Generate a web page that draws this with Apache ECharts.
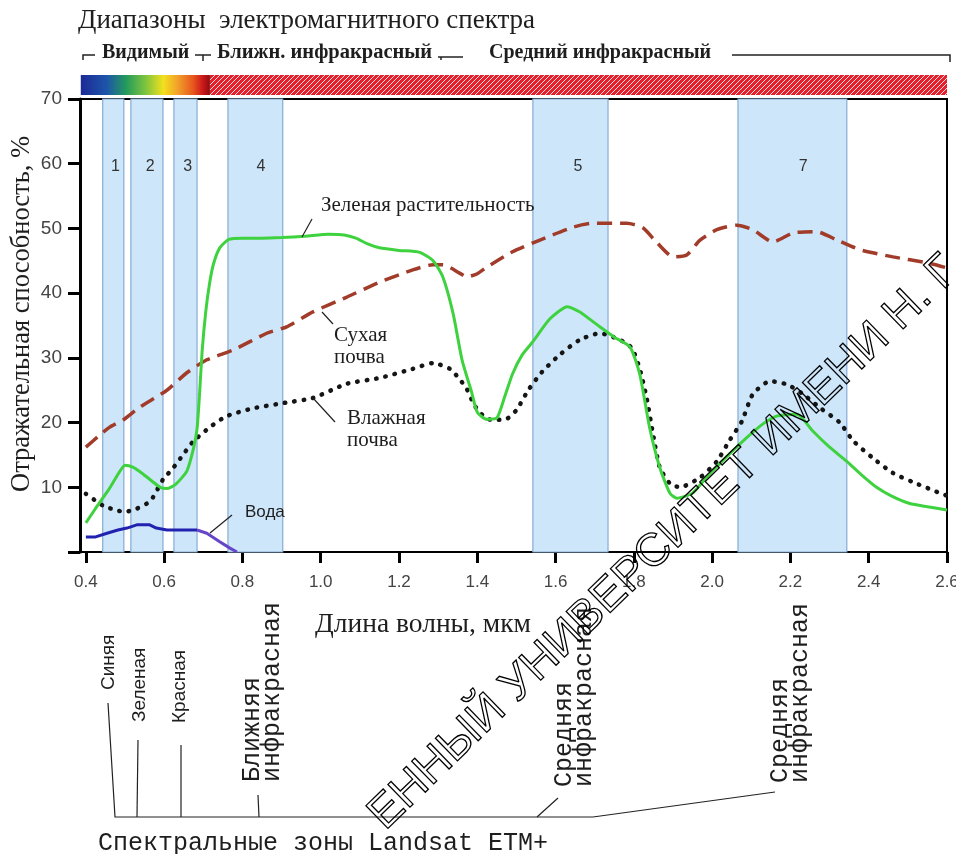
<!DOCTYPE html>
<html><head><meta charset="utf-8">
<script src="https://cdn.jsdelivr.net/npm/echarts@6/dist/echarts.min.js"></script>
<style>html,body{margin:0;padding:0;background:#fff}#c{width:956px;height:854px}</style>
</head><body><div id="c"></div><script>
// ---------- data ----------
const xTicks = [0.4,0.6,0.8,1.0,1.2,1.4,1.6,1.8,2.0,2.2,2.4,2.6];
const yTicks = [0,10,20,30,40,50,60,70];
const bandNames = ['1','2','3','4','5','7'];
const bandStart = [0.443,0.515,0.625,0.763,1.542,2.066];
const bandEnd   = [0.497,0.597,0.684,0.903,1.734,2.344];
const spectrumStart = [0.387,0.717];
const spectrumEnd   = [0.717,2.6];
const spectrumKind  = ['visible','infrared'];

const vegX = [0.40,0.43,0.46,0.48,0.50,0.52,0.545,0.57,0.59,0.607,0.63,0.658,0.675,0.684,0.69,0.697,0.706,0.716,0.726,0.742,0.765,0.80,0.85,0.90,0.96,1.02,1.06,1.09,1.12,1.15,1.20,1.253,1.287,1.312,1.338,1.361,1.386,1.40,1.424,1.45,1.47,1.49,1.515,1.542,1.585,1.63,1.662,1.713,1.75,1.79,1.815,1.84,1.866,1.892,1.91,1.95,1.985,2.02,2.089,2.13,2.165,2.217,2.257,2.30,2.344,2.38,2.42,2.46,2.505,2.55,2.60];
const vegY = [4.5,7.2,9.8,11.8,13.4,13.1,12.1,10.9,10.0,9.8,10.5,12.5,16,19,24,31,37,41.5,44.5,47,48.3,48.5,48.5,48.6,48.8,49.1,49.0,48.5,47.6,47.0,46.6,46.3,45.0,42.5,36.9,29.7,24.6,21.6,20.5,20.7,24,27.5,30.5,32.5,36,37.9,37.1,34.8,33.2,31.7,27.5,19.3,13.1,9.1,8.3,9.1,11.5,13.7,17.7,19.8,21,21.3,18.7,16.2,14,12,10,8.6,7.5,7,6.5];

const dryX = [0.40,0.436,0.461,0.495,0.538,0.607,0.658,0.709,0.776,0.862,0.913,0.98,1.067,1.151,1.235,1.287,1.312,1.355,1.373,1.40,1.424,1.49,1.56,1.645,1.695,1.782,1.823,1.859,1.90,1.935,1.969,2.012,2.063,2.104,2.155,2.207,2.267,2.319,2.378,2.462,2.549,2.60];
const dryY = [16.2,18.1,19.3,20.4,22.4,25.0,27.7,29.7,31.2,33.8,34.8,37.1,39.4,41.7,43.6,44.4,44.4,43.1,42.5,43.0,44.0,46.4,48.2,50.2,50.8,50.8,50.1,47.8,45.6,45.9,48.2,49.8,50.5,49.8,47.9,49.3,49.5,48.2,46.7,45.6,44.7,43.9];

const wetX = [0.40,0.423,0.443,0.474,0.50,0.53,0.556,0.571,0.597,0.622,0.648,0.673,0.717,0.76,0.827,0.903,0.98,1.067,1.151,1.235,1.287,1.33,1.355,1.373,1.386,1.40,1.424,1.445,1.476,1.501,1.53,1.565,1.611,1.662,1.713,1.764,1.795,1.815,1.833,1.849,1.866,1.892,1.918,1.969,2.012,2.045,2.076,2.104,2.148,2.191,2.232,2.275,2.326,2.36,2.411,2.462,2.513,2.582,2.60];
const wetY = [9.0,8.0,7.2,6.5,6.2,6.7,7.5,8.4,11.2,12.9,15.0,17.0,19.3,21.0,22.2,23.0,23.8,26.0,26.9,28.3,29.2,28.3,26.7,25.2,23.5,22.0,20.6,20.4,20.6,22.0,25.0,27.8,30.5,32.8,33.8,32.8,31.5,28.3,23.7,18.2,13.1,10.6,10.0,11.5,14.0,17.3,20.2,24.4,26.4,25.9,24.4,22.3,20.0,17.2,14.5,12.2,10.8,9.1,8.7];

const waterX = [0.40,0.423,0.454,0.482,0.505,0.53,0.563,0.58,0.607,0.684,0.709,0.742,0.768,0.786];
const waterY = [2.3,2.3,2.9,3.4,3.7,4.2,4.2,3.7,3.4,3.4,2.9,1.6,0.6,0];
const waterSplit = 9; // index where the curve leaves the visible range

// ---------- helpers ----------
const pairs = (xs, ys) => xs.map((x, i) => [x, ys[i]]);
const hatch = document.createElement('canvas');
hatch.width = 5; hatch.height = 5;
(function(){
  const c = hatch.getContext('2d');
  c.fillStyle = '#e3202b'; c.fillRect(0,0,5,5);
  c.strokeStyle = 'rgba(255,255,255,0.85)'; c.lineWidth = 1;
  c.beginPath(); c.moveTo(0,5); c.lineTo(5,0); c.moveTo(-1,1); c.lineTo(1,-1); c.moveTo(4,6); c.lineTo(6,4); c.stroke();
})();
const spectrumGradient = new echarts.graphic.LinearGradient(0,0,1,0,[
  {offset:0,color:'#1c2a96'},{offset:0.2,color:'#1d55aa'},{offset:0.35,color:'#239a5c'},
  {offset:0.5,color:'#7cc43e'},{offset:0.64,color:'#f3e01e'},{offset:0.75,color:'#f2a02a'},
  {offset:0.87,color:'#e8561e'},{offset:0.95,color:'#c8141a'},{offset:1,color:'#8a1010'}]);

const serif = '"Liberation Serif", "DejaVu Serif", serif';
const sans = '"Liberation Sans", Arial, sans-serif';
const mono = '"Liberation Mono", "DejaVu Sans Mono", monospace';

function txt(text, x, y, font, opts) {
  opts = opts || {};
  return Object.assign({type:'text', x:x, y:y, z:50, silent:true,
    style:Object.assign({text:text, font:font, fill:'#1e1e1e', textAlign:'left', textVerticalAlign:'middle', align:'left', verticalAlign:'middle'}, opts.style || {})},
    opts.el || {});
}
function vtxt(text, x, y, font, lh) {
  return {type:'text', x:x, y:y, rotation:Math.PI/2, z:50, silent:true,
    style:{text:text, font:font, fill:'#1e1e1e', textAlign:'left', align:'left', textVerticalAlign:'middle', verticalAlign:'middle', lineHeight:lh}};
}
function line(pts, w) {
  return {type:'polyline', z:50, silent:true, shape:{points:pts}, style:{stroke:'#222', lineWidth:w || 1, fill:null}};
}

const chart = echarts.init(document.getElementById('c'), null, {renderer:'canvas'});
chart.setOption({
  animation:false,
  backgroundColor:'#fff',
  grid:[
    {left:80, right:9, top:99, bottom:302, outerBoundsMode:'none', containLabel:false, show:true, borderColor:'#000', borderWidth:2, backgroundColor:'transparent'},
    {left:80, right:9, top:75, height:20, outerBoundsMode:'none', containLabel:false, show:false}
  ],
  xAxis:[
    {type:'value', gridIndex:0, min:0.385, max:2.6,
     axisLine:{show:true, lineStyle:{color:'#000', width:2}},
     axisTick:{show:true, customValues:xTicks, length:11, lineStyle:{color:'#000', width:3}},
     axisLabel:{show:true, customValues:xTicks, formatter:v=>v.toFixed(1), fontSize:17, color:'#444', margin:22, fontFamily:sans},
     splitLine:{show:false}},
    {type:'value', gridIndex:1, min:0.385, max:2.6, show:false}
  ],
  yAxis:[
    {type:'value', gridIndex:0, min:0, max:70, interval:10,
     axisLine:{show:true, lineStyle:{color:'#000', width:3}},
     axisTick:{show:true, length:12, lineStyle:{color:'#000', width:3}},
     axisLabel:{fontSize:19, color:'#444', margin:18, fontFamily:sans, formatter:v=>v===yTicks[0]?'':String(v)},
     splitLine:{show:false}},
    {type:'value', gridIndex:1, min:0, max:1, show:false}
  ],
  series:[
    {type:'custom', name:'bands', xAxisIndex:0, yAxisIndex:0, z:1, silent:true,
     data: bandStart.map((s,i)=>[s, bandEnd[i]]),
     renderItem:function(params, api){
       const s = api.value(0), e = api.value(1);
       const p0 = api.coord([s, 70]), p1 = api.coord([e, 0]);
       const lab = api.coord([s + (e-s)*0.6, 59.5]);
       return {type:'group', children:[
         {type:'rect', shape:{x:p0[0], y:p0[1], width:p1[0]-p0[0], height:p1[1]-p0[1]}, style:{fill:'#cde6fa', stroke:'#86acd4', lineWidth:1.2}},
         {type:'text', x:lab[0], y:lab[1], style:{text:bandNames[params.dataIndex], fill:'#333', font:'16px '+sans, textAlign:'center', align:'center', textVerticalAlign:'middle', verticalAlign:'middle'}}
       ]};
     }},
    {type:'custom', name:'spectrum', xAxisIndex:1, yAxisIndex:1, z:2, silent:true, clip:false,
     data: spectrumStart.map((s,i)=>[s, spectrumEnd[i]]),
     renderItem:function(params, api){
       const p0 = api.coord([api.value(0), 1]), p1 = api.coord([api.value(1), 0]);
       const kind = spectrumKind[params.dataIndex];
       return {type:'rect', shape:{x:p0[0], y:p0[1], width:p1[0]-p0[0], height:p1[1]-p0[1]},
         style:{fill: kind === 'visible' ? spectrumGradient : {image:hatch, repeat:'repeat'}}};
     }},
    {type:'line', name:'Вода', data:pairs(waterX.slice(0, waterSplit+1), waterY.slice(0, waterSplit+1)), symbol:'none', z:3,
     lineStyle:{color:'#2222b0', width:3}},
    {type:'line', name:'Вода (ИК)', data:pairs(waterX.slice(waterSplit), waterY.slice(waterSplit)), symbol:'none', z:3,
     lineStyle:{color:'#6646c8', width:3}},
    {type:'line', name:'Сухая почва', data:pairs(dryX, dryY), symbol:'none', smooth:0.2, z:4,
     lineStyle:{color:'#a23c2a', width:3.5, type:[15,8]}},
    {type:'line', name:'Влажная почва', data:pairs(wetX, wetY), symbol:'none', smooth:0.2, z:5,
     lineStyle:{color:'#151515', width:4.5, type:[0.5,9], cap:'round'}},
    {type:'line', name:'Зеленая растительность', data:pairs(vegX, vegY), symbol:'none', smooth:0.2, z:6,
     lineStyle:{color:'#3fd23f', width:3}}
  ],
  graphic:{elements:[
    txt('Диапазоны  электромагнитного спектра', 78, 21, '27px '+serif),
    txt('Видимый', 102, 53, 'bold 20px '+serif),
    txt('Ближн. инфракрасный', 217, 53, 'bold 20.5px '+serif),
    txt('Средний инфракрасный', 489, 53, 'bold 20px '+serif),
    line([[83,60],[83,55],[95,55]], 1.5),
    line([[195,55],[211,55]], 1.5), line([[203,55],[203,61]], 1.5),
    line([[438,57],[463,57]], 1.5), line([[441,57],[441,60]], 1.5),
    line([[732,55],[950,55],[950,62]], 1.5),

    vtxt('Отражательная способность, %', 22, 492, '26.5px '+serif, 28),
    txt('Длина волны, мкм', 315, 625, '27.5px '+serif),

    txt('Зеленая растительность', 321, 205, '21px '+serif),
    line([[312,219],[302,237]], 1.2),
    txt('Сухая\nпочва', 334, 324, '21px '+serif, {style:{textVerticalAlign:'top', verticalAlign:'top', lineHeight:22}}),
    line([[322,312],[333,324]], 1.2),
    txt('Влажная\nпочва', 347, 407, '21px '+serif, {style:{textVerticalAlign:'top', verticalAlign:'top', lineHeight:22}}),
    line([[313,398],[335,422]], 1.2),
    txt('Вода', 245, 512, '17px '+sans),
    line([[232,515],[210,533]], 1.2),

    vtxt('Синяя', 109, 690, '19px '+sans, 22),
    vtxt('Зеленая', 140, 722, '19px '+sans, 22),
    vtxt('Красная', 180, 723, '19px '+sans, 22),
    vtxt('Ближняя\nинфракрасная', 262, 782, '25px '+mono, 20),
    vtxt('Средняя\nинфракрасная', 574, 787, '25px '+mono, 20),
    vtxt('Средняя\nинфракрасная', 790, 783, '25px '+mono, 20),
    line([[108,703],[115,817],[593,817],[775,792]], 1.2),
    line([[138,740],[137,817]], 1.2),
    line([[181,745],[181,817]], 1.2),
    line([[258,795],[259,817]], 1.2),
    line([[558,798],[537,817]], 1.2),
    txt('Спектральные зоны Landsat ETM+', 98, 843, '25px '+mono),

    {type:'text', x:664, y:543, rotation:0.77, z:100, silent:true,
     style:{text:'ЕННЫЙ УНИВЕРСИТЕТ ИМЕНИ Н. Г', font:'46px '+sans, fill:'none', stroke:'#000', lineWidth:1.3,
            textAlign:'center', align:'center', textVerticalAlign:'middle', verticalAlign:'middle'}}
  ]}
});
</script></body></html>
